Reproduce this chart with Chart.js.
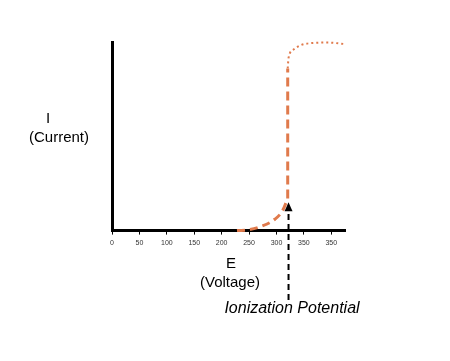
<!DOCTYPE html>
<html>
<head>
<meta charset="utf-8">
<script src="https://cdn.jsdelivr.net/npm/chart.js@4"></script>
<style>
html,body{margin:0;padding:0;background:#fff;}
#wrap{width:450px;height:361px;}
</style>
</head>
<body>
<div id="wrap"><canvas id="ionChart"></canvas></div>
<script>
// tick positions and the labels printed under them (last one really reads 350 in the picture)
var tickValues = [0, 50, 100, 150, 200, 250, 300, 350, 400];
var tickLabels = ['0', '50', '100', '150', '200', '250', '300', '350', '350'];

// lower dashed knee of the curve
var kneeX = [228, 251, 270, 297, 311, 320.5];
var kneeY = [0, 0.5, 2, 6, 10.5, 17];
// vertical dashed rise
var riseX = [320.5, 320.5];
var riseY = [17, 86];
// dotted saturation part
var satX = [320.5, 322, 331, 345, 367, 394, 422];
var satY = [86, 91.5, 96, 98.4, 99.5, 99.7, 99];

var ionPotential = 322;
var orange = '#e07a4c';

function toPoints(xs, ys){
	var pts = [];
	for(var i=0;i<xs.length;i++) pts.push({x:xs[i], y:ys[i]});
	return pts;
}

//축 제목, 화살표 그리기
var labelPlugin = {
	id:'labels',
	afterDatasetsDraw:function(chart){
		var ctx = chart.ctx;
		var xs = chart.scales.x, ys = chart.scales.y;
		var px = xs.getPixelForValue(ionPotential);
		var tipY = ys.getPixelForValue(15);
		ctx.save();
		// dashed black pointer
		ctx.strokeStyle = '#000';
		ctx.lineWidth = 2;
		ctx.setLineDash([6,4]);
		ctx.beginPath();
		ctx.moveTo(px, 300);
		ctx.lineTo(px, tipY + 6);
		ctx.stroke();
		ctx.setLineDash([]);
		ctx.fillStyle = '#000';
		ctx.beginPath();
		ctx.moveTo(px, tipY);
		ctx.lineTo(px - 4, tipY + 9);
		ctx.lineTo(px + 4, tipY + 9);
		ctx.closePath();
		ctx.fill();
		// texts
		ctx.textAlign = 'center';
		ctx.textBaseline = 'middle';
		ctx.font = '15px "Liberation Sans", Arial, sans-serif';
		ctx.fillText('I', 48, 119);
		ctx.fillText('(Current)', 59, 138);
		ctx.fillText('E', 231, 264);
		ctx.fillText('(Voltage)', 230, 283);
		ctx.font = 'italic 16px "Liberation Sans", Arial, sans-serif';
		ctx.fillText('Ionization Potential', 292, 309);
		ctx.restore();
	}
};

var ionChart = new Chart(document.getElementById('ionChart'), {
	type:'line',
	data:{
		datasets:[
			{
				data:toPoints(kneeX, kneeY),
				borderColor:orange,
				borderWidth:3,
				borderDash:[8,5],
				pointRadius:0,
				cubicInterpolationMode:'monotone',
				clip:false
			},
			{
				data:toPoints(riseX, riseY),
				borderColor:orange,
				borderWidth:3,
				borderDash:[9,5],
				pointRadius:0,
				clip:false
			},
			{
				data:toPoints(satX, satY),
				borderColor:orange,
				borderWidth:2,
				borderDash:[2,3],
				pointRadius:0,
				cubicInterpolationMode:'monotone',
				clip:false
			}
		]
	},
	options:{
		responsive:true,
		maintainAspectRatio:false,
		animation:false,
		layout:{padding:{left:112, right:105, top:42, bottom:110}},
		plugins:{legend:{display:false}, tooltip:{enabled:false}},
		scales:{
			x:{
				type:'linear',
				min:0,
				max:425,
				afterBuildTicks:function(scale){
					scale.ticks = tickValues.map(function(v){ return {value:v}; });
				},
				ticks:{
					autoSkip:false,
					maxRotation:0,
					padding:4,
					color:'#333',
					font:{family:'"Liberation Sans", Arial, sans-serif', size:7},
					callback:function(value, index){ return tickLabels[index]; }
				},
				grid:{drawOnChartArea:false, drawTicks:true, tickLength:4, color:'#000', lineWidth:1},
				border:{display:true, width:3, color:'#000'}
			},
			y:{
				type:'linear',
				min:0,
				max:100,
				ticks:{display:false},
				grid:{display:false, drawTicks:false},
				border:{display:true, width:3, color:'#000'}
			}
		}
	},
	plugins:[labelPlugin]
});
</script>
</body>
</html>
